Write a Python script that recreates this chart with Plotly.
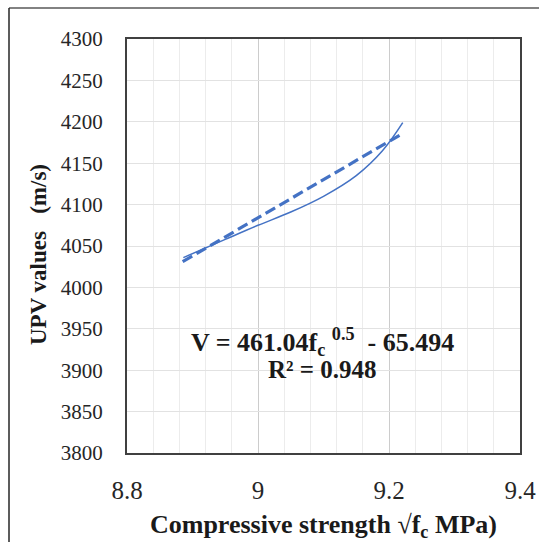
import plotly.graph_objects as go

# Data
upv_x = [8.886, 8.95, 9.0, 9.05, 9.1, 9.15, 9.19, 9.221]
upv_y = [4036, 4058, 4075, 4091, 4110, 4135, 4165, 4199]
fit_x = [8.885, 9.221]
fit_y = [4031, 4186]
x_ticks = [8.8, 9.0, 9.2, 9.4]
x_ticklabels = ["8.8", "9", "9.2", "9.4"]
y_ticks = [3800, 3850, 3900, 3950, 4000, 4050, 4100, 4150, 4200, 4250, 4300]

BLUE = "#4472C4"
SERIF = "Liberation Serif, Times New Roman, serif"

fig = go.Figure()
fig.add_trace(go.Scatter(x=upv_x, y=upv_y, mode="lines",
                         line=dict(color=BLUE, width=1.5, shape="spline", smoothing=1.0),
                         showlegend=False, hoverinfo="skip"))
fig.add_trace(go.Scatter(x=fit_x, y=fit_y, mode="lines",
                         line=dict(color=BLUE, width=3.2, dash="11px,5px"),
                         showlegend=False, hoverinfo="skip"))

fig.update_layout(
    width=539, height=542,
    margin=dict(l=127, r=19, t=39, b=89),
    paper_bgcolor="white", plot_bgcolor="white",
    font=dict(family=SERIF, color="#262626"),
    xaxis=dict(range=[8.8, 9.4], tickvals=x_ticks, ticktext=x_ticklabels,
               showgrid=True, gridcolor="#cccccc", gridwidth=1,
               minor=dict(dtick=0.04, tick0=8.8, showgrid=True, gridcolor="#ececec", gridwidth=1),
               showline=True, linecolor="#404040", linewidth=2, mirror=True,
               zeroline=False, ticks="", ticklabelstandoff=14, automargin=False,
               tickfont=dict(family=SERIF, size=25, color="#262626"),
               title=dict(text="<b>Compressive strength \u221Af<sub>c</sub> MPa)</b>",
                          font=dict(family=SERIF, size=26, color="#1a1a1a"), standoff=22)),
    yaxis=dict(range=[3800, 4300], tickvals=y_ticks,
               showgrid=True, gridcolor="#e2e2e2", gridwidth=1,
               showline=True, linecolor="#404040", linewidth=2, mirror=True,
               zeroline=False, ticks="", ticklabelstandoff=18, automargin=False,
               tickfont=dict(family=SERIF, size=21, color="#262626")),
)

# y-axis title
fig.add_annotation(x=(38 - 127) / 393, y=(453 - 255) / 414, xref="paper", yref="paper",
                   xanchor="center", yanchor="middle",
                   showarrow=False, textangle=-90,
                   text="<b>UPV values\u00a0\u00a0\u00a0(m/s)</b>",
                   font=dict(family=SERIF, size=23, color="#1a1a1a"))

fig.add_annotation(x=9.098, y=3934, xref="x", yref="y", showarrow=False,
                   text="<b>V = 461.04f<sub>c</sub> <sup>0.5</sup>\u00a0\u00a0- 65.494</b>",
                   font=dict(family=SERIF, size=26, color="#1a1a1a"))
fig.add_annotation(x=9.098, y=3901, xref="x", yref="y", showarrow=False,
                   text="<b>R\u00b2 = 0.948</b>",
                   font=dict(family=SERIF, size=25, color="#1a1a1a"))

# outer chart frame (left and top edges visible)
x_left = (9 - 127) / 393
y_top = (453 - 8) / 414
fig.add_shape(type="line", xref="paper", yref="paper", x0=x_left, x1=1.2, y0=y_top, y1=y_top,
              line=dict(color="#595959", width=1.5))
fig.add_shape(type="line", xref="paper", yref="paper", x0=x_left, x1=x_left, y0=y_top, y1=-0.4,
              line=dict(color="#262626", width=1.5))

fig.write_html("out.html")
